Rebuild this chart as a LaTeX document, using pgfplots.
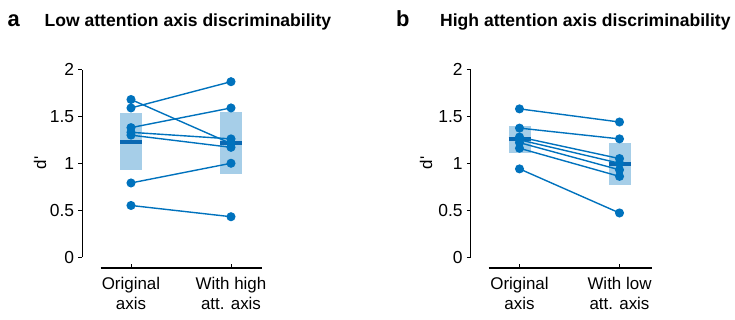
\documentclass[border=0pt]{standalone}
\usepackage{fontspec}
\setmainfont{Liberation Sans}[Ligatures=TeXOff]
\usepackage{pgfplots}
\pgfplotsset{compat=1.18}
\definecolor{ptblue}{RGB}{0,114,189}
\definecolor{boxblue}{RGB}{166,206,232}
\definecolor{meanblue}{RGB}{10,104,178}

\pgfplotsset{
  panel/.style={
    scale only axis, width=179.4bp, height=198.5bp,
    xmin=-0.487, xmax=1.307, ymin=-0.117, ymax=2,
    axis x line*=bottom, axis y line*=left,
    axis line style={draw=none},
    clip=false,
    xtick={0,1}, ytick={0,0.5,1,1.5,2},
    tick align=outside,
    major tick length=4bp,
    tick style={black, line width=1bp},
    every x tick/.append style={draw=none},
    /pgf/number format/assume math mode=true,
    yticklabel style={font=\fontsize{17.5}{20}\selectfont, inner xsep=0pt, xshift=-4bp},
    xticklabel style={font=\fontsize{17}{20}\selectfont, align=center, yshift=-2bp},
    ylabel style={font=\fontsize{17}{20}\selectfont, anchor=center},
  },
  subj/.style={ptblue, line width=1.4bp, mark=*, mark size=3.8bp, mark options={fill=ptblue, draw=ptblue}},
  mbox/.style={fill=boxblue, draw=none},
  mbar/.style={meanblue, line width=4bp},
}

\begin{document}
\begin{tikzpicture}
\path[use as bounding box] (0,0) rectangle (735bp,-320bp);

% ---------- Panel a ----------
\begin{axis}[panel, at={(82.3bp,-268bp)}, anchor=south west,
  xticklabels={{Original\\axis},{With high\\att. axis}},
  ylabel={d'}, ylabel style={at={(axis description cs:-0.236,0.529)}}]
\addplot[mbox] coordinates {(-0.11,0.924) (0.11,0.924) (0.11,1.535) (-0.11,1.535)} -- cycle;
\addplot[mbox] coordinates {(0.89,0.881) (1.11,0.881) (1.11,1.552) (0.89,1.552)} -- cycle;
\addplot[mbar] coordinates {(-0.11,1.226) (0.11,1.226)};
\addplot[mbar] coordinates {(0.89,1.218) (1.11,1.218)};
\addplot[subj] coordinates {(0,1.59) (1,1.87)};
\addplot[subj] coordinates {(0,1.68) (1,1.21)};
\addplot[subj] coordinates {(0,1.38) (1,1.59)};
\addplot[subj] coordinates {(0,1.33) (1,1.26)};
\addplot[subj] coordinates {(0,1.30) (1,1.17)};
\addplot[subj] coordinates {(0,0.79) (1,1.00)};
\addplot[subj] coordinates {(0,0.55) (1,0.43)};
\draw[black, line width=1.2bp] (axis cs:-0.487,0) -- (axis cs:-0.487,2);
\draw[black, line width=1.2bp] (axis cs:-0.303,-0.117) -- (axis cs:1.307,-0.117);
\draw[black, line width=1bp] (axis cs:0,-0.117) -- ([yshift=4bp]axis cs:0,-0.117);
\draw[black, line width=1bp] (axis cs:1,-0.117) -- ([yshift=4bp]axis cs:1,-0.117);
\end{axis}

% ---------- Panel b ----------
\begin{axis}[panel, at={(470.8bp,-268bp)}, anchor=south west,
  xticklabels={{Original\\axis},{With low\\att. axis}},
  ylabel={d'}, ylabel style={at={(axis description cs:-0.25,0.529)}}]
\addplot[mbox] coordinates {(-0.11,1.112) (0.11,1.112) (0.11,1.396) (-0.11,1.396)} -- cycle;
\addplot[mbox] coordinates {(0.89,0.764) (1.11,0.764) (1.11,1.218) (0.89,1.218)} -- cycle;
\addplot[mbar] coordinates {(-0.11,1.258) (0.11,1.258)};
\addplot[mbar] coordinates {(0.89,0.995) (1.11,0.995)};
\addplot[subj] coordinates {(0,1.58) (1,1.44)};
\addplot[subj] coordinates {(0,1.375) (1,1.26)};
\addplot[subj] coordinates {(0,1.28) (1,1.05)};
\addplot[subj] coordinates {(0,1.25) (1,1.00)};
\addplot[subj] coordinates {(0,1.22) (1,0.93)};
\addplot[subj] coordinates {(0,1.16) (1,0.86)};
\addplot[subj] coordinates {(0,0.94) (1,0.47)};
\draw[black, line width=1.2bp] (axis cs:-0.487,0) -- (axis cs:-0.487,2);
\draw[black, line width=1.2bp] (axis cs:-0.31,-0.117) -- (axis cs:1.32,-0.117);
\draw[black, line width=1bp] (axis cs:0,-0.117) -- ([yshift=4bp]axis cs:0,-0.117);
\draw[black, line width=1bp] (axis cs:1,-0.117) -- ([yshift=4bp]axis cs:1,-0.117);
\end{axis}

% ---------- Titles ----------
\node[anchor=base west, inner sep=0, font=\fontsize{22}{24}\selectfont\bfseries] at (7.5bp,-26bp) {a};
\node[anchor=base west, inner sep=0, font=\fontsize{17.6}{20}\selectfont\bfseries] at (44.5bp,-26bp) {Low attention axis discriminability};
\node[anchor=base west, inner sep=0, font=\fontsize{22}{24}\selectfont\bfseries] at (396bp,-26bp) {b};
\node[anchor=base west, inner sep=0, font=\fontsize{17.6}{20}\selectfont\bfseries] at (440bp,-26bp) {High attention axis discriminability};
\end{tikzpicture}
\end{document}
